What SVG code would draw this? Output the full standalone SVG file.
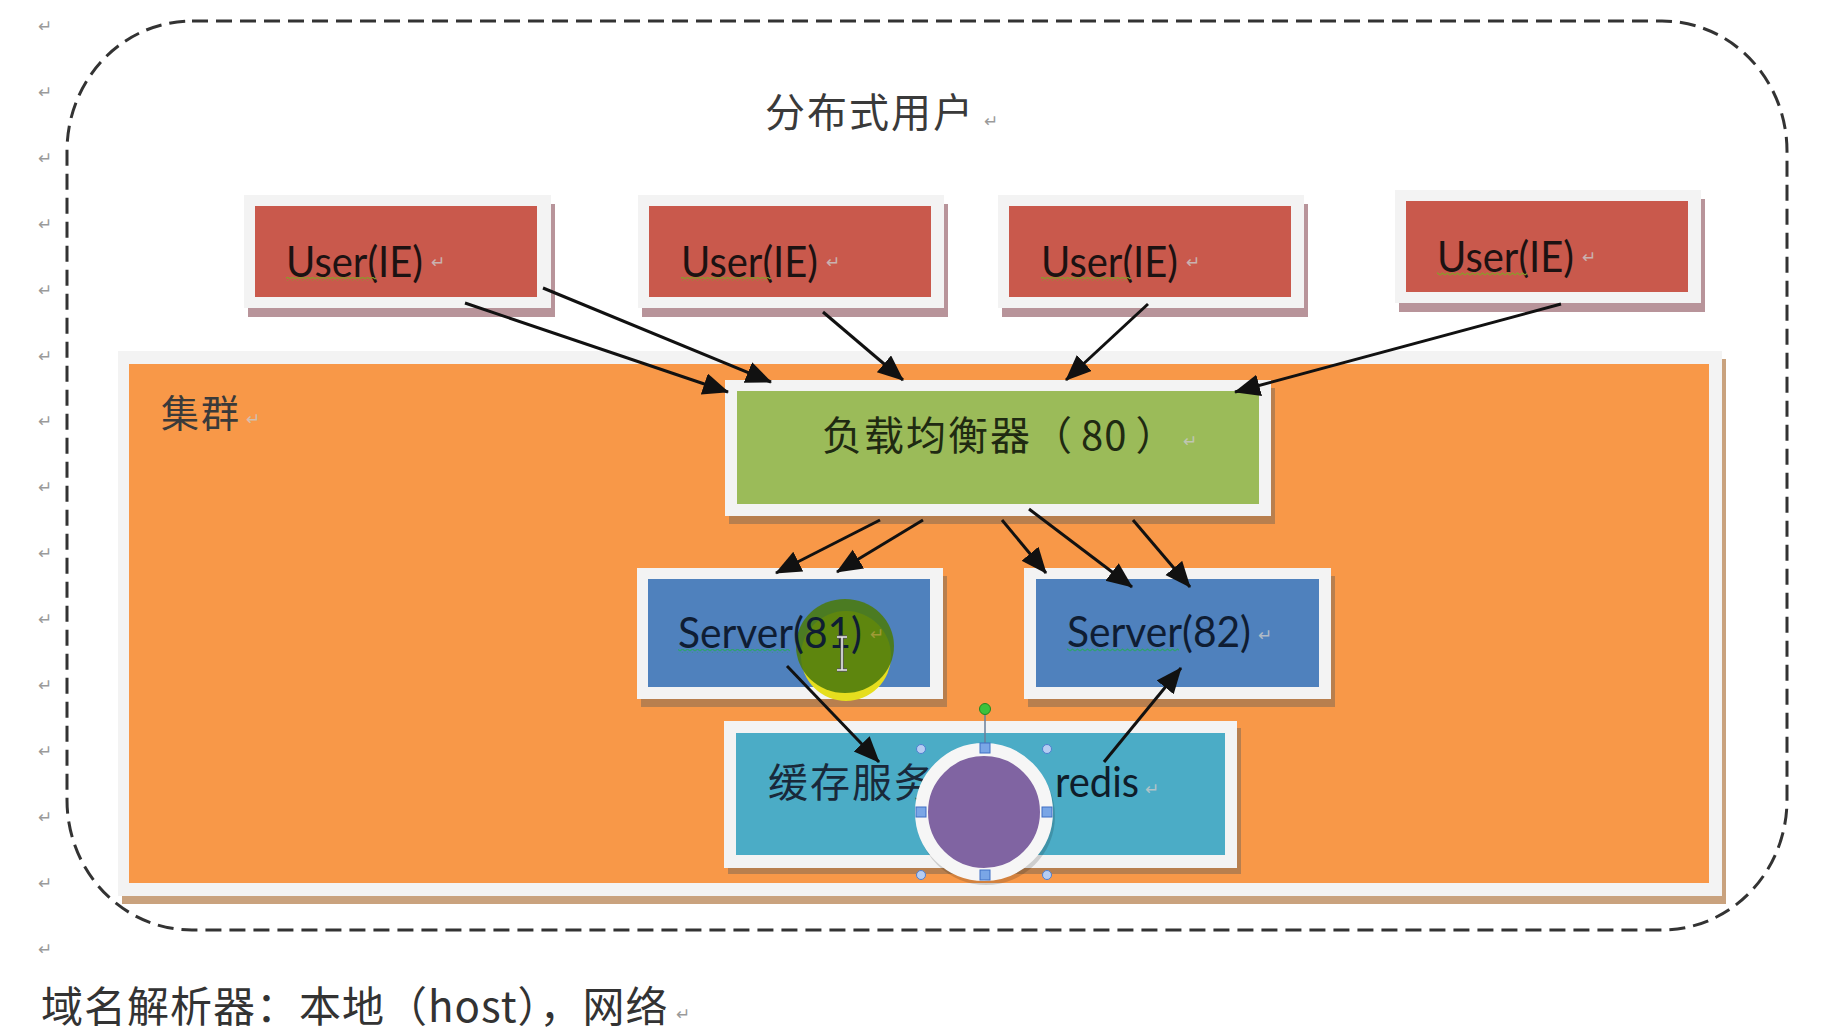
<svg xmlns="http://www.w3.org/2000/svg" width="1846" height="1032" viewBox="0 0 1846 1032">
  <defs>
    <style>
      .cjk { font-family: 'Noto Sans CJK SC', 'Noto Sans CJK JP', sans-serif; }
      .lat { font-family: Lato, 'Liberation Sans', sans-serif; }
      .pm { font-family: 'DejaVu Sans', sans-serif; font-size: 17px; fill: #9a9a9a; }
      .pm-in { font-family: 'DejaVu Sans', sans-serif; font-size: 17px; fill: #c9c9c9; opacity: 0.8; }
      .frame { fill: #f3f3f3; }
      .sh-red { fill: #b8949a; }
      .sh-org { fill: #b87f4e; }
      .red { fill: #c9594c; }
      .green { fill: #9bbb59; }
      .blue { fill: #4f81bd; }
      .cyan { fill: #4bacc6; }
      .conn line { stroke: #111; stroke-width: 3; marker-end: url(#ah); }
      .handle-sq { fill: #7aa6e6; stroke: #3e6fc4; stroke-width: 1; }
      .handle-c { fill: #b6cdf2; stroke: #4f7fd0; stroke-width: 1; }
    </style>
    <marker id="ah" markerUnits="userSpaceOnUse" markerWidth="28" markerHeight="24" refX="25" refY="11" orient="auto">
      <path d="M0,0 L26,11 L0,22 Z" fill="#111"/>
    </marker>
    <pattern id="sq-olive" width="5" height="4" patternUnits="userSpaceOnUse">
      <path d="M0,3 L2.5,1 L5,3" fill="none" stroke="#8a9a2a" stroke-width="1.1"/>
    </pattern>
    <pattern id="sq-green" width="5" height="4" patternUnits="userSpaceOnUse">
      <path d="M0,3 L2.5,1 L5,3" fill="none" stroke="#2fa070" stroke-width="1.1"/>
    </pattern>
  </defs>

  <rect x="0" y="0" width="1846" height="1032" fill="#ffffff"/>

  <!-- paragraph marks in the left margin -->
  <g id="margin-marks" class="pm">
    <text x="38" y="32">↵</text>
    <text x="38" y="98">↵</text>
    <text x="38" y="164">↵</text>
    <text x="38" y="230">↵</text>
    <text x="38" y="296">↵</text>
    <text x="38" y="362">↵</text>
    <text x="38" y="427">↵</text>
    <text x="38" y="493">↵</text>
    <text x="38" y="559">↵</text>
    <text x="38" y="625">↵</text>
    <text x="38" y="691">↵</text>
    <text x="38" y="757">↵</text>
    <text x="38" y="823">↵</text>
    <text x="38" y="889">↵</text>
    <text x="38" y="955">↵</text>
  </g>

  <!-- outer boundary: distributed users -->
  <g id="distributed-users">
    <rect x="67" y="21" width="1720" height="909" rx="125" ry="130" fill="none" stroke="#333" stroke-width="3" stroke-dasharray="16 8"/>
    <text class="cjk" x="765" y="127" font-size="40" letter-spacing="2" fill="#3a3a3a">分布式用户</text>
    <text class="pm" x="984" y="127">↵</text>
  </g>

  <!-- cluster -->
  <g id="cluster">
    <rect x="122" y="359" width="1604" height="545" fill="#c9a27e"/>
    <rect class="frame" x="118" y="351" width="1604" height="545"/>
    <rect x="129" y="364" width="1580" height="519" fill="#f89848"/>
    <text class="cjk" x="161" y="427" font-size="38" letter-spacing="2" fill="#3a3a3a">集群</text>
    <text class="pm-in" x="246" y="425">↵</text>
  </g>

  <!-- users -->
  <g id="user1">
    <rect class="sh-red" x="248" y="204" width="307" height="113"/>
    <rect class="frame" x="244" y="195" width="307" height="113"/>
    <rect class="red" x="255" y="206" width="282" height="91"/>
    <text class="lat" x="286" y="277" font-size="42" textLength="137" lengthAdjust="spacingAndGlyphs" fill="#1c1212">User(IE)</text>
    <rect x="286" y="277" width="90" height="4" fill="url(#sq-olive)"/>
    <text class="pm-in" x="431" y="268">↵</text>
  </g>
  <g id="user2">
    <rect class="sh-red" x="642" y="204" width="306" height="113"/>
    <rect class="frame" x="638" y="195" width="306" height="113"/>
    <rect class="red" x="649" y="206" width="282" height="91"/>
    <text class="lat" x="681" y="277" font-size="42" textLength="137" lengthAdjust="spacingAndGlyphs" fill="#1c1212">User(IE)</text>
    <rect x="681" y="277" width="90" height="4" fill="url(#sq-olive)"/>
    <text class="pm-in" x="826" y="268">↵</text>
  </g>
  <g id="user3">
    <rect class="sh-red" x="1002" y="204" width="306" height="113"/>
    <rect class="frame" x="998" y="195" width="306" height="113"/>
    <rect class="red" x="1009" y="206" width="282" height="91"/>
    <text class="lat" x="1041" y="277" font-size="42" textLength="137" lengthAdjust="spacingAndGlyphs" fill="#1c1212">User(IE)</text>
    <rect x="1041" y="277" width="90" height="4" fill="url(#sq-olive)"/>
    <text class="pm-in" x="1186" y="268">↵</text>
  </g>
  <g id="user4">
    <rect class="sh-red" x="1399" y="199" width="306" height="113"/>
    <rect class="frame" x="1395" y="190" width="306" height="113"/>
    <rect class="red" x="1406" y="201" width="282" height="91"/>
    <text class="lat" x="1437" y="272" font-size="42" textLength="137" lengthAdjust="spacingAndGlyphs" fill="#1c1212">User(IE)</text>
    <rect x="1437" y="272" width="90" height="4" fill="url(#sq-olive)"/>
    <text class="pm-in" x="1582" y="263">↵</text>
  </g>

  <!-- load balancer -->
  <g id="load-balancer">
    <rect class="sh-org" x="729" y="388" width="546" height="136"/>
    <rect class="frame" x="725" y="380" width="546" height="136"/>
    <rect class="green" x="737" y="391" width="522" height="113"/>
    <text class="cjk" x="822" y="450" font-size="40" letter-spacing="2" fill="#1f2a12">负载均衡器（<tspan dx="7" letter-spacing="1">80</tspan><tspan dx="8">）</tspan></text>
    <text class="pm-in" x="1183" y="447">↵</text>
  </g>

  <!-- servers -->
  <g id="server81">
    <rect class="sh-org" x="641" y="576" width="306" height="131"/>
    <rect class="frame" x="637" y="568" width="306" height="131"/>
    <rect class="blue" x="648" y="579" width="282" height="108"/>
    <g id="cursor-highlight">
      <ellipse cx="846" cy="656" rx="45" ry="45" fill="#e6de1e"/>
      <ellipse cx="845" cy="646" rx="49" ry="47" fill="#4b7a0c" opacity="0.88"/>
    </g>
    <text class="lat" x="678" y="648" font-size="42" textLength="184" lengthAdjust="spacingAndGlyphs" fill="#0f1d33">Server(81)</text>
    <rect x="678" y="649" width="112" height="4" fill="url(#sq-green)"/>
    <text class="pm-in" x="870" y="640" style="fill:#b0a040">↵</text>
  </g>
  <g id="server82">
    <rect class="sh-org" x="1028" y="576" width="307" height="131"/>
    <rect class="frame" x="1024" y="568" width="307" height="131"/>
    <rect class="blue" x="1036" y="579" width="283" height="108"/>
    <text class="lat" x="1067" y="647" font-size="42" textLength="184" lengthAdjust="spacingAndGlyphs" fill="#0f1d33">Server(82)</text>
    <rect x="1067" y="648" width="112" height="4" fill="url(#sq-green)"/>
    <text class="pm-in" x="1258" y="641">↵</text>
  </g>

  <!-- cache -->
  <g id="cache">
    <rect class="sh-org" x="728" y="728" width="513" height="146"/>
    <rect class="frame" x="724" y="721" width="513" height="147"/>
    <rect class="cyan" x="736" y="733" width="489" height="122"/>
    <text class="cjk" x="768" y="797" font-size="40" letter-spacing="2" fill="#19293a">缓存服务</text>
    <text class="lat" x="1055" y="797" font-size="42" textLength="84" lengthAdjust="spacingAndGlyphs" fill="#0f1d2a">redis</text>
    <text class="pm-in" x="1145" y="795">↵</text>
  </g>

  <!-- connectors -->
  <g id="connectors" class="conn">
    <line x1="465" y1="303" x2="728" y2="392"/>
    <line x1="543" y1="288" x2="771" y2="382"/>
    <line x1="823" y1="312" x2="903" y2="380"/>
    <line x1="1148" y1="304" x2="1066" y2="380"/>
    <line x1="1561" y1="304" x2="1235" y2="392"/>
    <line x1="880" y1="520" x2="776" y2="573"/>
    <line x1="923" y1="520" x2="837" y2="572"/>
    <line x1="1002" y1="520" x2="1046" y2="573"/>
    <line x1="1029" y1="509" x2="1132" y2="587"/>
    <line x1="1133" y1="520" x2="1190" y2="587"/>
    <line x1="787" y1="666" x2="879" y2="762"/>
    <line x1="1104" y1="762" x2="1181" y2="668"/>
  </g>

  <!-- I-beam cursor -->
  <g id="ibeam" fill="none">
    <path d="M837,637 h10 M842,637 v33 M837,670 h10" stroke="#555" stroke-width="3.5"/>
    <path d="M837,637 h10 M842,637 v33 M837,670 h10" stroke="#e8e8e8" stroke-width="1.6"/>
  </g>

  <!-- selected purple circle with handles -->
  <g id="selected-circle">
    <circle cx="986" cy="816" r="69" fill="#000" opacity="0.15"/>
    <circle cx="984" cy="812" r="62.5" fill="#8064a2" stroke="#f6f6f6" stroke-width="13"/>
    <line x1="985" y1="714" x2="985" y2="744" stroke="#6a7f9a" stroke-width="1.5"/>
    <circle cx="985" cy="709" r="5.5" fill="#3cc23c" stroke="#228822" stroke-width="1"/>
    <circle class="handle-c" cx="921" cy="749" r="4.5"/>
    <circle class="handle-c" cx="1047" cy="749" r="4.5"/>
    <circle class="handle-c" cx="921" cy="875" r="4.5"/>
    <circle class="handle-c" cx="1047" cy="875" r="4.5"/>
    <rect class="handle-sq" x="980" y="743" width="10" height="10"/>
    <rect class="handle-sq" x="980" y="870" width="10" height="10"/>
    <rect class="handle-sq" x="916" y="807" width="10" height="10"/>
    <rect class="handle-sq" x="1042" y="807" width="10" height="10"/>
  </g>

  <!-- bottom note -->
  <g id="dns-note">
    <text class="cjk" x="41" y="1022" font-size="42" letter-spacing="1" fill="#333">域名解析器：本地（host），网络</text>
    <text class="pm" x="676" y="1020">↵</text>
  </g>
</svg>
